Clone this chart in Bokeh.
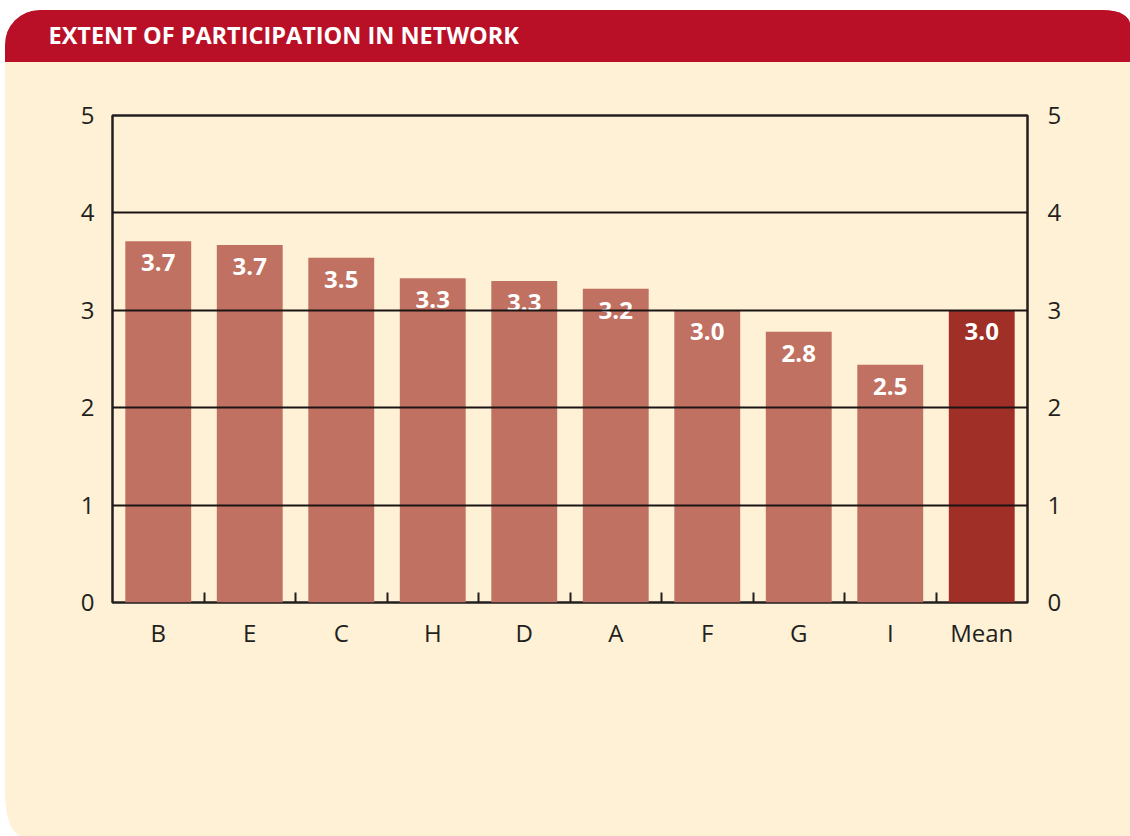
from bokeh.plotting import figure
from bokeh.layouts import column
from bokeh.models import Range1d, FixedTicker, LinearAxis, ColumnDataSource
from bokeh.core.properties import value
from bokeh.embed import file_html
from bokeh.resources import INLINE

# ---- data ----
categories = ["B", "E", "C", "H", "D", "A", "F", "G", "I", "Mean"]
values = [3.71, 3.67, 3.54, 3.33, 3.30, 3.22, 3.00, 2.78, 2.44, 3.00]
value_labels = ["3.7", "3.7", "3.5", "3.3", "3.3", "3.2", "3.0", "2.8", "2.5", "3.0"]
y_ticks = [0, 1, 2, 3, 4, 5]
title_text = "EXTENT OF PARTICIPATION IN NETWORK"

# ---- style ----
RED = "#BA1027"
CREAM = "#FEF1D6"
BAR = "#C07161"
MEAN_BAR = "#9F2F27"
INK = "#231F20"
FONT = "Open Sans"

W = 1125
HEADER_H = 52
BODY_H = 826 - HEADER_H
n = len(categories)
xs = [i + 0.5 for i in range(n)]
colors = [MEAN_BAR if c == "Mean" else BAR for c in categories]

src = ColumnDataSource(dict(x=xs, top=values, label=value_labels, color=colors))

# ---- header band with the title ----
hdr = figure(width=W, height=HEADER_H, output_backend="svg", toolbar_location=None,
             min_border_left=0, min_border_right=0, min_border_top=0, min_border_bottom=0,
             x_range=Range1d(0, 1), y_range=Range1d(0, 1))
hdr.border_fill_color = RED
hdr.background_fill_color = RED
hdr.outline_line_color = None
hdr.axis.visible = False
hdr.grid.visible = False
hdr.title.text = title_text
hdr.title.text_color = "white"
hdr.title.text_font = FONT
hdr.title.text_font_size = "23.5px"
hdr.title.text_font_style = "bold"
hdr.title.align = "left"
hdr.title.vertical_align = "top"
hdr.title.offset = -64
hdr.title.standoff = 16

# ---- chart ----
p = figure(width=W, height=BODY_H, x_range=Range1d(0, n), y_range=Range1d(0, 5),
           output_backend="svg", toolbar_location=None,
           min_border_left=107, min_border_right=103, min_border_top=105 - HEADER_H,
           min_border_bottom=234)
p.border_fill_color = CREAM
p.background_fill_color = CREAM
p.outline_line_color = INK
p.outline_line_width = 2.5

p.vbar(x="x", top="top", bottom=0, width=0.72, fill_color="color", line_color=None, source=src)
p.text(x="x", y="top", text="label", source=src, text_align="center", text_baseline="top",
       y_offset=13, text_color="white", text_font=value(FONT), text_font_size="24px",
       text_font_style="bold")

# x axis: category names centred under bars, tick marks between bars
xa = p.xaxis[0]
xa.ticker = FixedTicker(ticks=xs, minor_ticks=[i for i in range(1, n)])
xa.major_label_overrides = {x: c for x, c in zip(xs, categories)}
xa.major_tick_line_color = None
xa.minor_tick_in = 10
xa.minor_tick_out = 0
xa.minor_tick_line_color = INK
xa.minor_tick_line_width = 2
xa.axis_line_color = None
xa.major_label_standoff = 7
xa.major_label_text_font = FONT
xa.major_label_text_font_size = "24px"
xa.major_label_text_color = INK

# y axes (left and right)
def style_y(ax):
    ax.ticker = FixedTicker(ticks=y_ticks)
    ax.major_tick_line_color = None
    ax.minor_tick_line_color = None
    ax.axis_line_color = None
    ax.major_label_text_font = FONT
    ax.major_label_text_font_size = "24px"
    ax.major_label_text_color = INK

la = p.yaxis[0]
style_y(la)
la.major_label_standoff = 12
ra = LinearAxis()
style_y(ra)
ra.major_label_standoff = 14
p.add_layout(ra, "right")

p.xgrid.visible = False
p.ygrid.ticker = FixedTicker(ticks=y_ticks)
p.ygrid.grid_line_color = "#1A1414"
p.ygrid.grid_line_width = 2.2
p.ygrid.level = "guide"

card = column(hdr, p, spacing=0)
card.styles = {"position": "absolute", "left": "5px", "top": "10px",
               "border-radius": "35px 27px 0px 17px / 35px 14px 0px 43px",
               "overflow": "hidden",
               "background": f"linear-gradient(to bottom, {RED} 0px, {RED} {HEADER_H}px, {CREAM} {HEADER_H}px, {CREAM} 100%)"}

open("out.html", "w").write(file_html(card, INLINE))
